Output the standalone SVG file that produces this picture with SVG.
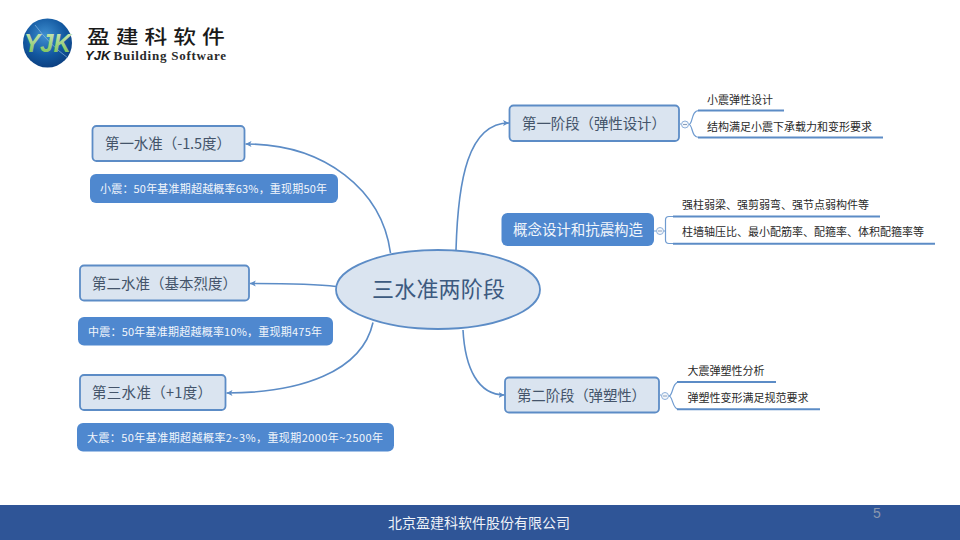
<svg xmlns="http://www.w3.org/2000/svg" width="960" height="540" viewBox="0 0 960 540">
<style>
text{font-family:"Noto Sans CJK SC","Noto Sans",sans-serif}
.box{fill:#dae4f0;stroke:#5c8cc6;stroke-width:1.8}
.fill{fill:#4f88cf}
.lbl{font-size:14.500px;fill:#44546a}
.wht{font-size:11px;fill:#f2f6fb}
.sub{font-size:11px;fill:#2a2a2a}
.con{fill:none;stroke:#5c8cc6;stroke-width:1.6}
.ul{fill:none;stroke:#5c8cc6;stroke-width:2}
.thin{fill:none;stroke:#6f9bd0;stroke-width:1.200}
.tog{fill:#f4f7fb;stroke:#8eb0da;stroke-width:1}
.minus{fill:none;stroke:#8a9fbb;stroke-width:1}
</style>
<defs>
<marker id="arrow" markerUnits="userSpaceOnUse" markerWidth="7" markerHeight="7" refX="6" refY="3.5" orient="auto"><path d="M0 0.5L6 3.5L0 6.5L1.5 3.5Z" fill="#5c8cc6"/></marker>
<radialGradient id="globe" cx="0.45" cy="0.35" r="0.7"><stop offset="0" stop-color="#3f8fd0"/><stop offset="0.6" stop-color="#12579f"/><stop offset="1" stop-color="#0b3c7c"/></radialGradient>
<linearGradient id="yjk" x1="0" y1="0" x2="0" y2="1"><stop offset="0" stop-color="#d8ecc4"/><stop offset="1" stop-color="#6fbd4a"/></linearGradient>
</defs>
<rect width="960" height="540" fill="#fff"/>
<g id="logo">
<circle cx="47.500" cy="43" r="24.500" fill="url(#globe)"/>
<path d="M35 25Q50 45 68 58" fill="none" stroke="#9cc5e8" stroke-width="0.6"/>
<text x="47.500" y="52" text-anchor="middle" font-size="26" font-weight="700" font-style="italic" fill="url(#yjk)" style="font-family:'Liberation Sans',sans-serif" textLength="47" lengthAdjust="spacingAndGlyphs">YJK</text>
<text transform="translate(87 44) scale(1.2 1)" x="0" y="0" font-size="19" font-weight="500" fill="#1a1a1a" letter-spacing="5">盈建科软件</text>
<text x="85" y="59.500" font-size="13" font-weight="700" font-style="italic" fill="#1a1a1a" style="font-family:'Liberation Sans',sans-serif">YJK</text>
<text x="113.500" y="59.500" font-size="13" font-weight="700" fill="#2a2a2a" style="font-family:'Liberation Serif',serif" textLength="112.500">Building Software</text>
</g>
<g id="connectors">
<path class="con" d="M390.500 253C382 190 325 144 245.500 144" marker-end="url(#arrow)"/>
<path class="con" d="M336 286.500C312 283.500 285 283.500 249.800 283.500" marker-end="url(#arrow)"/>
<path class="con" d="M373 322.500C362 372 300 393 226.500 393" marker-end="url(#arrow)"/>
<path class="con" d="M456 250C458 180 468 123 509 123" marker-end="url(#arrow)"/>
<path class="con" d="M463 330C465 368 478 395 504.500 395" marker-end="url(#arrow)"/>
</g>
<g id="root"><ellipse class="box" cx="438" cy="289.500" rx="102" ry="39.500"/><text x="372" y="297" font-size="22" fill="#3c5a80" textLength="133">三水准两阶段</text></g>
<g id="level1"><rect class="box" x="92.500" y="126" width="152" height="35" rx="4"/><text class="lbl" x="105" y="149" textLength="126">第一水准（-1.5度）</text></g>
<g id="level1-note"><rect class="fill" x="90" y="174" width="248" height="29" rx="6"/><text class="wht" x="100" y="193" textLength="227">小震：50年基准期超越概率63%，重现期50年</text></g>
<g id="level2"><rect class="box" x="80" y="265.500" width="169" height="35" rx="4"/><text class="lbl" x="92" y="288.500" textLength="145">第二水准（基本烈度）</text></g>
<g id="level2-note"><rect class="fill" x="78" y="317" width="255" height="28.500" rx="6"/><text class="wht" x="88" y="336" textLength="234">中震：50年基准期超越概率10%，重现期475年</text></g>
<g id="level3"><rect class="box" x="80" y="375" width="145.500" height="35" rx="4"/><text class="lbl" x="92" y="398" textLength="120">第三水准（+1度）</text></g>
<g id="level3-note"><rect class="fill" x="77" y="423" width="317" height="28.500" rx="6"/><text class="wht" x="87" y="442" textLength="296">大震：50年基准期超越概率2~3%，重现期2000年~2500年</text></g>
<g id="stage1"><rect class="box" x="509.500" y="105.500" width="169.500" height="35.500" rx="4"/><text class="lbl" x="522" y="129" textLength="144">第一阶段（弹性设计）</text></g>
<g id="stage1-subs">
<path class="thin" d="M679 124H681"/><circle class="tog" cx="685" cy="124.500" r="3.500"/><path class="minus" d="M683 124.500H687"/>
<path class="thin" d="M689 124.500C693 124 691 110.500 699 110.500"/><path class="thin" d="M689 124.500C693 125 691 137.500 699 137.500"/>
<path class="ul" d="M698 110.500H784"/><path class="ul" d="M698 137.500H883"/>
<text class="sub" x="707" y="104">小震弹性设计</text><text class="sub" x="707" y="131">结构满足小震下承载力和变形要求</text>
</g>
<g id="concept"><rect class="fill" x="501.500" y="213" width="152.500" height="33" rx="6"/><text x="513" y="235" font-size="14.500" fill="#f2f6fb" textLength="130">概念设计和抗震构造</text></g>
<g id="concept-subs">
<path class="thin" d="M654 231H656"/><circle class="tog" cx="660" cy="231" r="3.500"/><path class="minus" d="M658 231H662"/>
<path class="thin" d="M664 231H665.500"/><path class="thin" d="M673 216.500H669Q665.500 216.500 665.500 220V240Q665.500 243.500 669 243.500H673"/>
<path class="ul" d="M673 216.500H880"/><path class="ul" d="M673 243.700H935"/>
<text class="sub" x="682" y="209">强柱弱梁、强剪弱弯、强节点弱构件等</text><text class="sub" x="682" y="236">柱墙轴压比、最小配筋率、配箍率、体积配箍率等</text>
</g>
<g id="stage2"><rect class="box" x="505" y="377.500" width="154" height="35" rx="4"/><text class="lbl" x="517" y="401" textLength="129">第二阶段（弹塑性）</text></g>
<g id="stage2-subs">
<path class="thin" d="M659 395H661"/><circle class="tog" cx="665" cy="396" r="3.500"/><path class="minus" d="M663 396H667"/>
<path class="thin" d="M669 396C673 396 672 382 679 382"/><path class="thin" d="M669 396C673 396 672 409.500 679 409.500"/>
<path class="ul" d="M677 382H776"/><path class="ul" d="M677 409.300H820"/>
<text class="sub" x="687.500" y="375">大震弹塑性分析</text><text class="sub" x="687.500" y="402">弹塑性变形满足规范要求</text>
</g>
<g id="footer">
<rect y="505" width="960" height="35" fill="#2f5597"/>
<text x="479" y="528" text-anchor="middle" font-size="14" fill="#eef2f8">北京盈建科软件股份有限公司</text>
<text x="877" y="518" text-anchor="middle" font-size="14" fill="#8a97ae" style="font-family:'Liberation Sans',sans-serif">5</text>
</g>
</svg>
